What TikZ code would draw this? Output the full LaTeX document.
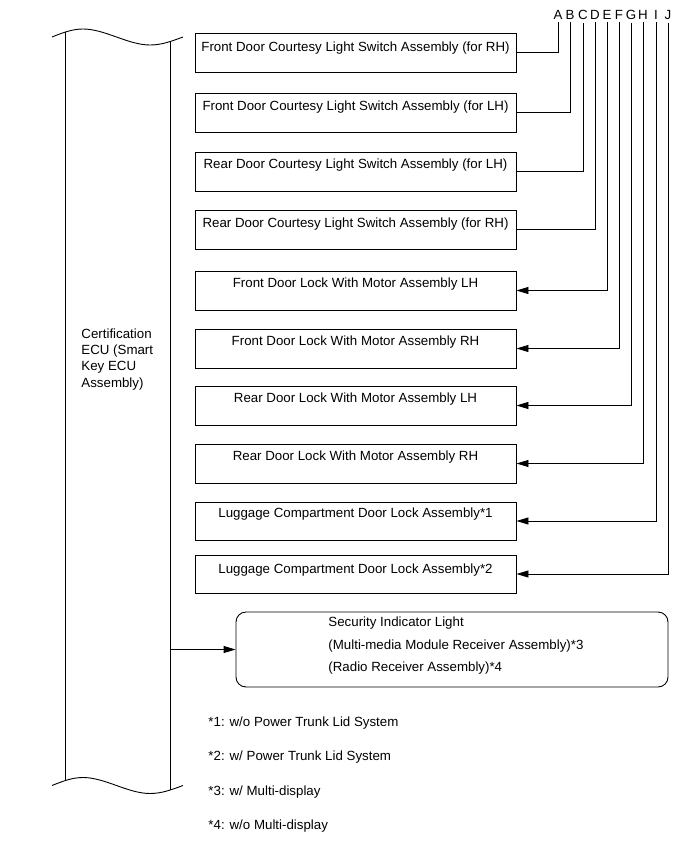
\documentclass[tikz,border=0pt]{standalone}
\usepackage{fontspec}
\setmainfont{Liberation Sans}
\usetikzlibrary{arrows.meta}
\begin{document}
\begin{tikzpicture}[x=1pt,y=-1pt, line width=0.9pt,
  txt/.style={font=\fontsize{13.3}{16}\selectfont, inner sep=0pt},
  boxnode/.style={draw, inner sep=0pt, minimum width=321pt},
  arr/.style={-{Triangle[length=12pt,width=7pt]}},
  letter/.style={txt, anchor=base, inner ysep=3pt}]
\useasboundingbox (0,0) rectangle (691,854);

% letters
\foreach \n/\x in {A/558,B/570,C/583,D/595,E/607,F/619,G/631,H/643,I/656,J/668}
  \node[letter] (l\n) at (\x,19) {\n};

% boxes
\foreach \i/\t/\b/\bl/\s in {
1/33/72/51/Front Door Courtesy Light Switch Assembly (for RH),
2/93/132/110/Front Door Courtesy Light Switch Assembly (for LH),
3/152/191/168/Rear Door Courtesy Light Switch Assembly (for LH),
4/210/249/227/Rear Door Courtesy Light Switch Assembly (for RH),
5/271/310/287/Front Door Lock With Motor Assembly LH,
6/329/368/345/Front Door Lock With Motor Assembly RH,
7/386/425/402/Rear Door Lock With Motor Assembly LH,
8/444/483/460/Rear Door Lock With Motor Assembly RH,
9/502/540/517/Luggage Compartment Door Lock Assembly*1,
10/555/593/573/Luggage Compartment Door Lock Assembly*2}
{
  \node[boxnode, minimum height={(\b-\t)*1pt}] (b\i) at (355.5,{(\t+\b)/2}) {};
  \node[txt, anchor=base] (t\i) at (355.5,\bl) {\s};
}

% connectors
\draw (b1.east) -| (lA.south);
\draw (b2.east) -| (lB.south);
\draw (b3.east) -| (lC.south);
\draw (b4.east) -| (lD.south);
\draw[arr] (lE.south) |- (b5.east);
\draw[arr] (lF.south) |- (b6.east);
\draw[arr] (lG.south) |- (b7.east);
\draw[arr] (lH.south) |- (b8.east);
\draw[arr] (lI.south) |- (b9.east);
\draw[arr] (lJ.south) |- (b10.east);

% ECU outline
\node[inner sep=0pt, minimum width=105pt, minimum height=740pt] (ecu) at (117.5,410) {};
\draw (52,37) .. controls (62,33) and (72,29) .. (83,29)
  .. controls (105,29) and (128,45) .. (150,45)
  .. controls (162,45) and (172,41) .. (183,37);
\draw (52,785.5) .. controls (62,781.5) and (72,777.5) .. (83,777.5)
  .. controls (105,777.5) and (128,793.5) .. (150,793.5)
  .. controls (162,793.5) and (172,789.5) .. (183,785.5);
\draw (65,31.5) -- (65,780);
\draw (170,41) -- (170,789.5);
\node[txt, anchor=base west] (e1) at (81,338) {Certification};
\node[txt, anchor=base west] (e2) at (81,354.3) {ECU (Smart};
\node[txt, anchor=base west] (e3) at (81,370.6) {Key ECU};
\node[txt, anchor=base west] (e4) at (81,387) {Assembly)};

% security indicator
\node[draw, rounded corners=10pt, minimum width=432pt, minimum height=75pt, inner sep=0pt] (sec) at (452,649.5) {};
\node[txt, anchor=base west] (s1) at (328,626.5) {Security Indicator Light};
\node[txt, anchor=base west] (s2) at (328,649) {(Multi-media Module Receiver Assembly)*3};
\node[txt, anchor=base west] (s3) at (328,671.5) {(Radio Receiver Assembly)*4};
\draw[arr] (ecu.east |- sec.west) -- (sec.west);

% footnotes
\node[txt, anchor=base west] (f1) at (208,726) {*1: w/o Power Trunk Lid System};
\node[txt, anchor=base west] (f2) at (208,760.5) {*2: w/ Power Trunk Lid System};
\node[txt, anchor=base west] (f3) at (208,795) {*3: w/ Multi-display};
\node[txt, anchor=base west] (f4) at (208,829) {*4: w/o Multi-display};
\end{tikzpicture}
\end{document}
